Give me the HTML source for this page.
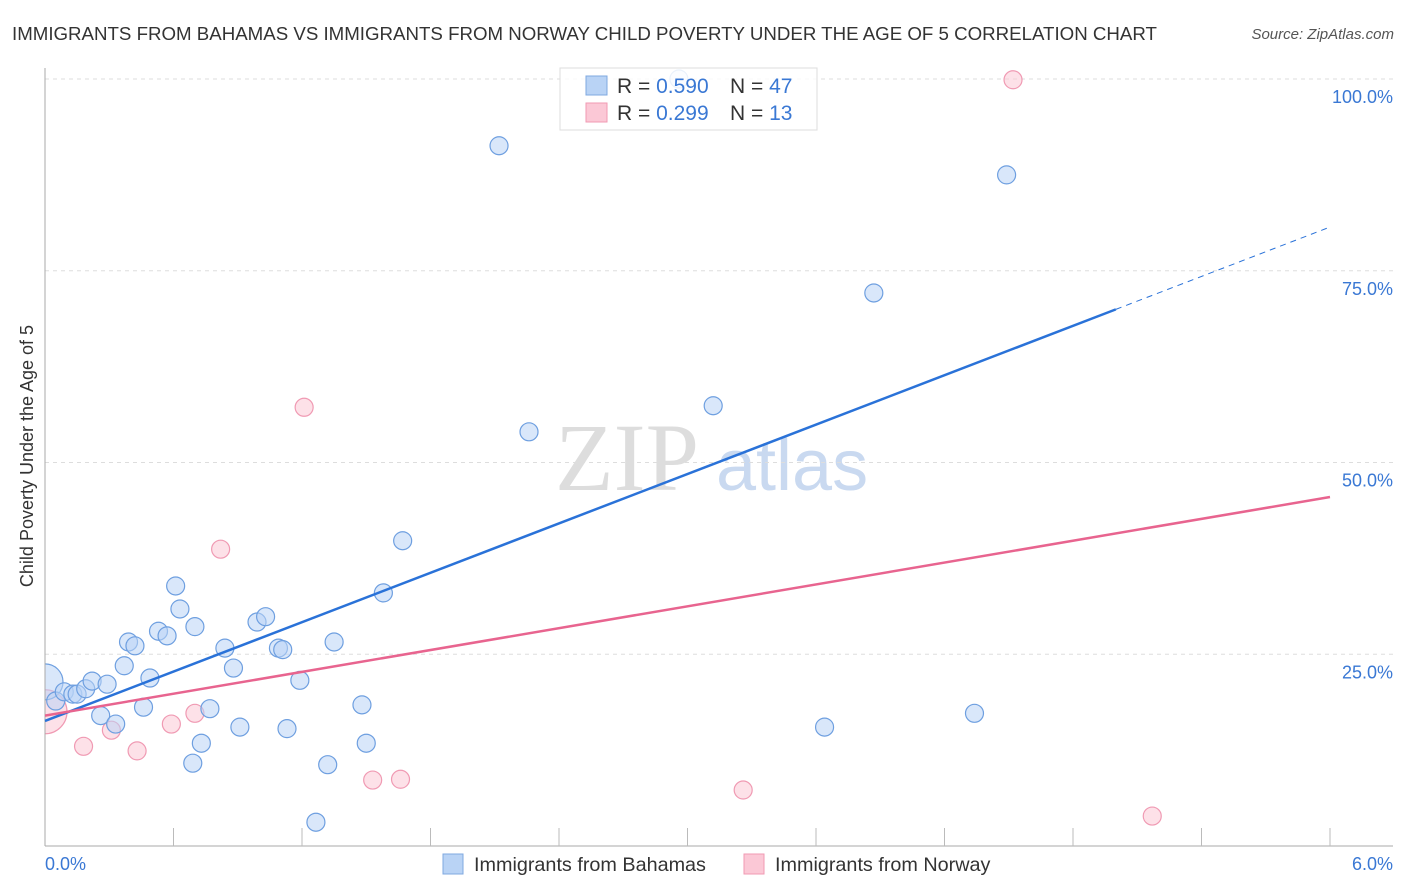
<!DOCTYPE html>
<html><head><meta charset="utf-8">
<style>
body{margin:0;background:#fff;font-family:"Liberation Sans",sans-serif;}
#wrap{position:relative;width:1406px;height:892px;overflow:hidden;}
</style></head>
<body>
<div id="wrap">
<svg id="chart" width="1406" height="892" xmlns="http://www.w3.org/2000/svg">
  <text x="12" y="40" font-size="18.7" fill="#333">IMMIGRANTS FROM BAHAMAS VS IMMIGRANTS FROM NORWAY CHILD POVERTY UNDER THE AGE OF 5 CORRELATION CHART</text>
  <text x="1394" y="39" font-size="15" fill="#555" font-style="italic" text-anchor="end">Source: ZipAtlas.com</text>
  <g>
    <text x="555" y="490" font-size="96" fill="#ddd" font-family="Liberation Serif,serif">ZIP</text>
    <text x="716" y="490" font-size="72" fill="#c9d9f0">atlas</text>
  </g>
  <g id="grid"></g>
  <svg x="45" y="0" width="1361" height="846" overflow="hidden">
    <g id="points" transform="translate(-45,0)"></g>
  </svg>
  <rect x="0" y="60" width="44.5" height="800" fill="#fff"/>
  <text transform="translate(33,456) rotate(-90)" font-size="18" fill="#333" text-anchor="middle">Child Poverty Under the Age of 5</text>
  <g id="axes"></g>
  <g id="lines"></g>
  <g>
    <rect x="560" y="68" width="257" height="62" fill="#fff" fill-opacity="0.85" stroke="#ddd"/>
    <rect x="586" y="76" width="21" height="19" fill="#b9d3f5" stroke="#7fa8e0"/>
    <rect x="586" y="103" width="21" height="19" fill="#fbc8d6" stroke="#f09ab3"/>
    <text x="617" y="93" font-size="21" fill="#333">R = <tspan fill="#3a78d4">0.590</tspan></text>
    <text x="730" y="93" font-size="21" fill="#333">N = <tspan fill="#3a78d4">47</tspan></text>
    <text x="617" y="120" font-size="21" fill="#333">R =  <tspan fill="#3a78d4">0.299</tspan></text>
    <text x="730" y="120" font-size="21" fill="#333">N =  <tspan fill="#3a78d4">13</tspan></text>
  </g>
  <g>
    <rect x="443" y="854" width="20" height="20" fill="#b9d3f5" stroke="#7fa8e0"/>
    <text x="474" y="871" font-size="19.8" fill="#333">Immigrants from Bahamas</text>
    <rect x="744" y="854" width="20" height="20" fill="#fbc8d6" stroke="#f09ab3"/>
    <text x="775" y="871" font-size="19.8" fill="#333">Immigrants from Norway</text>
  </g>
</svg>
</div>
<script>
const xTickLabels = ["0.0%", "6.0%"];
const yTicks = [25, 50, 75, 100];
const yTickLabels = ["25.0%", "50.0%", "75.0%", "100.0%"];
const bahamasX = [0.00,0.05,0.09,0.13,0.15,0.19,0.22,0.26,0.29,0.33,0.37,0.39,0.42,0.46,0.49,0.53,0.57,0.61,0.63,0.70,0.69,0.73,0.77,0.84,0.88,0.91,0.99,1.03,1.09,1.11,1.13,1.19,1.265,1.32,1.35,1.48,1.50,1.58,1.67,2.12,2.26,3.12,2.96,3.64,3.87,4.34,4.49];
const bahamasY = [21.4,18.9,20.1,19.8,19.8,20.5,21.5,17.0,21.1,15.9,23.5,26.6,26.1,18.1,21.9,28.0,27.4,33.9,30.9,28.6,10.8,13.4,17.9,25.8,23.2,15.5,29.2,29.9,25.8,25.6,15.3,21.6,3.1,10.6,26.6,18.4,13.4,33.0,39.8,91.3,54.0,57.4,100.0,15.5,72.1,17.3,87.5];
const bahamasR = [18,9,9,9,9,9,9,9,9,9,9,9,9,9,9,9,9,9,9,9,9,9,9,9,9,9,9,9,9,9,9,9,9,9,9,9,9,9,9,9,9,9,9,9,9,9,9];
const norwayX = [0.00,0.18,0.31,0.43,0.59,0.70,0.82,1.21,1.53,1.66,3.26,4.52,5.17];
const norwayY = [17.5,13.0,15.1,12.4,15.9,17.3,38.7,57.2,8.6,8.7,7.3,99.9,3.9];
const norwayR = [22,9,9,9,9,9,9,9,9,9,9,9,9];
const bahamasTrend = [16.3, 80.7];
const norwayTrend = [17.0, 45.5];
const bahamasSolidEnd = 5.0;

const NS = "http://www.w3.org/2000/svg";
const X0 = 45, X1 = 1330, YB = 846, YT = 79;
function sx(v){ return X0 + v/6*(X1-X0); }
function sy(v){ return YB - v/100*(YB-YT); }
function mk(tag, attrs, parent){ const e=document.createElementNS(NS,tag); for(const k in attrs) e.setAttribute(k,attrs[k]); parent.appendChild(e); return e; }

const grid=document.getElementById('grid');
yTicks.forEach((t,i)=>{
  const l=mk('line',{x1:X0,x2:1393,y1:sy(t),y2:sy(t),stroke:'#ddd','stroke-dasharray':'4,4'},grid);
  
  
  const tx=mk('text',{x:1393,y:sy(t)+24,'font-size':18,fill:'#3a78d4','text-anchor':'end'},grid);
  tx.textContent=yTickLabels[i];
  
  
});
const axes=document.getElementById('axes');
const ya=mk('line',{x1:X0,x2:X0,y1:68,y2:YB,stroke:'#aaa'},axes);


const xa=mk('line',{x1:X0,x2:1393,y1:YB,y2:YB,stroke:'#aaa'},axes);


for(let i=1;i<=10;i++){
  const t=mk('line',{x1:sx(i*0.6),x2:sx(i*0.6),y1:828,y2:YB,stroke:'#bbb'},axes);
  
  
}
const xl0=mk('text',{x:45,y:870,'font-size':18,fill:'#3a78d4'},axes);
xl0.textContent=xTickLabels[0];


const xl1=mk('text',{x:1393,y:870,'font-size':18,fill:'#3a78d4','text-anchor':'end'},axes);
xl1.textContent=xTickLabels[1];



const pts=document.getElementById('points');
function drawPts(xs,ys,rs,fill,stroke,name){
  xs.forEach((x,i)=>{
    const c=mk('circle',{cx:sx(x),cy:sy(ys[i]),r:rs[i],fill:fill,stroke:stroke,'stroke-width':1.2,'fill-opacity':0.55},pts);
    
    
  });
}
drawPts(norwayX,norwayY,norwayR,'#fbc8d6','#f09ab3','point-norway');
drawPts(bahamasX,bahamasY,bahamasR,'#b9d3f5','#6e9fe0','point-bahamas');

const lines=document.getElementById('lines');
function trendY(tr,x){ return tr[0]+(tr[1]-tr[0])*x/6; }
const bl=mk('line',{x1:sx(0),y1:sy(trendY(bahamasTrend,0)),x2:sx(bahamasSolidEnd),y2:sy(trendY(bahamasTrend,bahamasSolidEnd)),stroke:'#2a72d8','stroke-width':2.5},lines);


const bd=mk('line',{x1:sx(bahamasSolidEnd),y1:sy(trendY(bahamasTrend,bahamasSolidEnd)),x2:sx(6),y2:sy(trendY(bahamasTrend,6)),stroke:'#2a72d8','stroke-width':1,'stroke-dasharray':'6,5'},lines);


const pl=mk('line',{x1:sx(0),y1:sy(trendY(norwayTrend,0)),x2:sx(6),y2:sy(trendY(norwayTrend,6)),stroke:'#e8648f','stroke-width':2.5},lines);


</script>
</body></html>
